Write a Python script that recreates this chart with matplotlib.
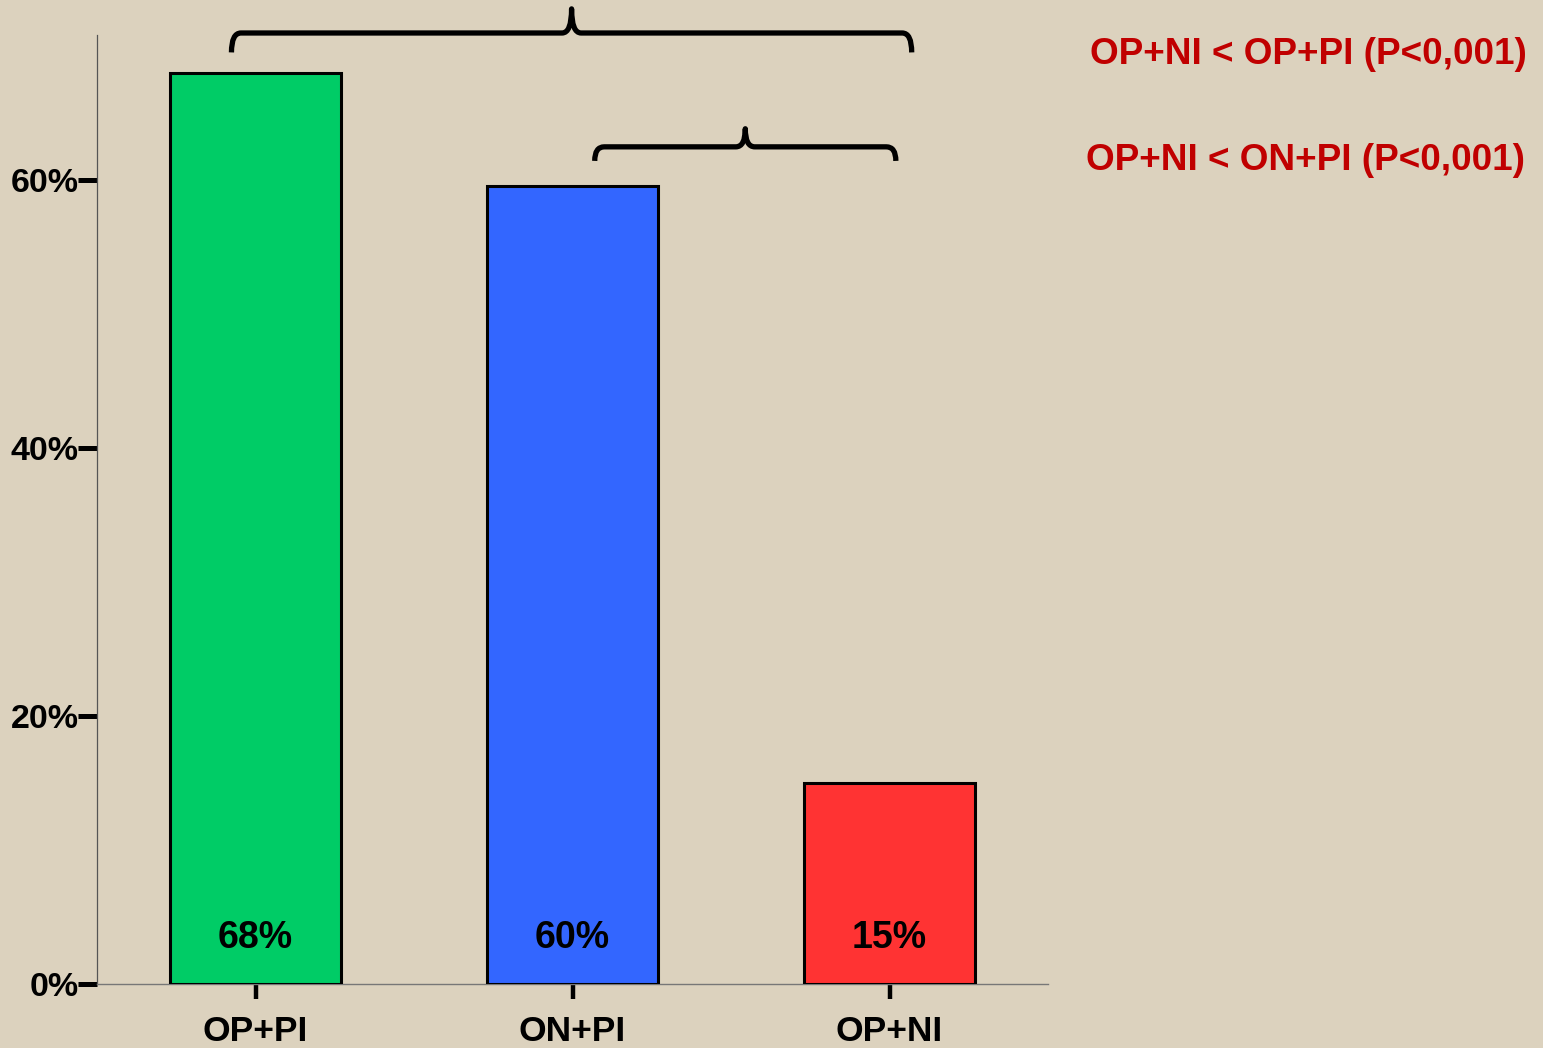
import matplotlib
matplotlib.use("Agg")
import matplotlib.pyplot as plt
from matplotlib.path import Path
from matplotlib.patches import PathPatch
from matplotlib.ticker import FuncFormatter
from matplotlib.transforms import ScaledTranslation

categories = ["OP+PI", "ON+PI", "OP+NI"]
values = [68, 59.6, 15]
value_labels = ["68%", "60%", "15%"]
bar_colors = ["#00CC66", "#3366FF", "#FF3333"]
yticks = [0, 20, 40, 60]
notes = ["OP+NI < OP+PI (P<0,001)", "OP+NI < ON+PI (P<0,001)"]

BG = "#DCD2BE"
plt.rcParams['font.family'] = ['Liberation Sans', 'DejaVu Sans']

fig = plt.figure(figsize=(15.43, 10.48), dpi=100, facecolor=BG)
ax = fig.add_axes([0.0629, 0.0611, 0.6163, 0.9055])
ax.set_facecolor(BG)

x = list(range(len(categories)))
ax.bar(x, values, width=0.54, color=bar_colors, edgecolor="black", linewidth=2.2, zorder=3)
ax.set_xlim(-0.5, 2.5)
ax.set_ylim(0, 70.85)

ax.set_xticks(x)
ax.set_xticklabels(categories, fontsize=25.5, fontweight="bold")
shift = ScaledTranslation(5 / 100, 0, fig.dpi_scale_trans)
for lab in ax.get_xticklabels():
    lab.set_transform(lab.get_transform() + shift)
ax.set_yticks(yticks)
ax.yaxis.set_major_formatter(FuncFormatter(lambda v, p: f"{int(v)}%"))
for lab in ax.get_yticklabels():
    lab.set_fontsize(24.5)
    lab.set_fontweight("bold")
ax.tick_params(axis="y", direction="out", length=14, width=3.6, color="black", pad=-1)
ax.tick_params(axis="x", direction="out", length=11, width=3.2, color="black", pad=11)

for s in ["top", "right"]:
    ax.spines[s].set_visible(False)
ax.spines["left"].set_color("#555555")
ax.spines["left"].set_linewidth(0.9)
ax.spines["bottom"].set_color("#777777")
ax.spines["bottom"].set_linewidth(1.0)

for xi, lbl in zip(x, value_labels):
    ax.annotate(lbl, xy=(xi, 0), xytext=(0, 33), textcoords="offset points",
                ha="center", va="center", fontsize=27, fontweight="bold", color="black", zorder=4)


def brace(ax, x0, x1, yh, drop, rise, r=0.03):
    xm = (x0 + x1) / 2
    verts = [
        (x0, yh - drop),
        (x0, yh), (x0 + r, yh),
        (xm - r, yh),
        (xm, yh), (xm, yh + rise),
        (xm, yh), (xm + r, yh),
        (x1 - r, yh),
        (x1, yh), (x1, yh - drop),
    ]
    codes = [Path.MOVETO,
             Path.CURVE3, Path.CURVE3,
             Path.LINETO,
             Path.CURVE3, Path.CURVE3,
             Path.CURVE3, Path.CURVE3,
             Path.LINETO,
             Path.CURVE3, Path.CURVE3]
    p = PathPatch(Path(verts, codes), fill=False, lw=3.8, edgecolor="black",
                  capstyle="butt", joinstyle="round", clip_on=False, zorder=5)
    ax.add_patch(p)

brace(ax, x[0] - 0.076, x[2] + 0.07, 71.0, 1.45, 1.8)
brace(ax, x[1] + 0.07, x[2] + 0.02, 62.5, 1.05, 1.35)

fig.text(1527 / 1543, 1 - 54 / 1048, notes[0], ha="right", va="center",
         fontsize=26.6, fontweight="bold", color="#C00000")
fig.text(1525 / 1543, 1 - 160 / 1048, notes[1], ha="right", va="center",
         fontsize=26.6, fontweight="bold", color="#C00000")

fig.savefig("out.png", dpi=100, facecolor=BG)
